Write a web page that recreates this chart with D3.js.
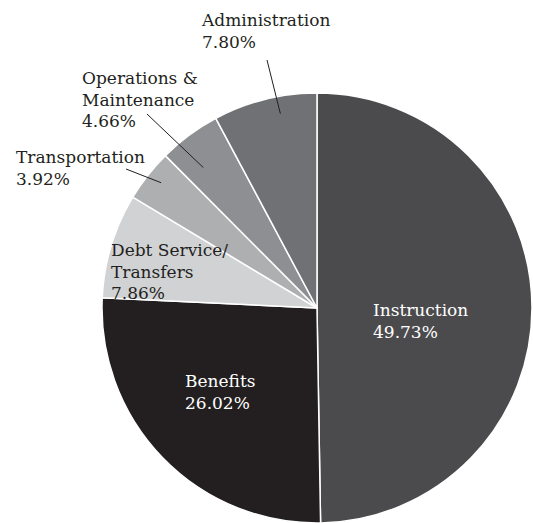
<!DOCTYPE html>
<html>
<head>
<meta charset="utf-8">
<script src="https://cdn.jsdelivr.net/npm/d3@7"></script>
<style>
  body { margin: 0; background: #fff; }
  text { font-family: "DejaVu Serif", serif; font-size: 17px; }
</style>
</head>
<body>
<div class="pie-chart"></div>
<script>
var categories = ['Instruction', 'Benefits', 'Debt Service/Transfers', 'Transportation', 'Operations & Maintenance', 'Administration'];
var shares = [49.73, 26.02, 7.86, 3.92, 4.66, 7.80];
var colours = ['#4b4b4d', '#231f20', '#d1d2d4', '#aeafb1', '#8e8f92', '#707174'];
// label text lines, split the way the printed chart wraps them
var labelLines = [
    ['Instruction', '49.73%'],
    ['Benefits', '26.02%'],
    ['Debt Service/', 'Transfers', '7.86%'],
    ['Transportation', '3.92%'],
    ['Operations &', 'Maintenance', '4.66%'],
    ['Administration', '7.80%']
];

var width = 533, height = 523;
var cx = 317, cy = 308, radius = 215;
var lineHeight = 21.5;

// where each label block sits (x, first baseline), and fill of the text
var labelPos = [
    [373, 316, '#fff'],
    [185, 387, '#fff'],
    [111, 256, '#231f20'],
    [16, 163, '#231f20'],
    [82, 84, '#231f20'],
    [202, 26, '#231f20']
];
// leader lines: outer end near label, inner end as fraction along slice / radius
var leaders = [
    null, null, null,
    { from: [126, 169], t: 0.55, r: 0.93 },
    { from: [147, 114], t: 0.35, r: 0.84 },
    { from: [267, 60], t: 0.62, r: 0.92 }
];

var data = categories.map(function (c, i) {
    return { name: c, share: shares[i], colour: colours[i], lines: labelLines[i] };
});

var svg = d3.select('.pie-chart')
    .append('svg')
    .attr('width', width)
    .attr('height', height);

var pie = d3.pie()
    .value(function (d) { return d.share; })
    .sort(null);
var arcs = pie(data);

var arc = d3.arc().innerRadius(0).outerRadius(radius);

var g = svg.append('g').attr('transform', 'translate(' + cx + ',' + cy + ')');

g.selectAll('.slice').data(arcs).enter()
    .append('path')
    .attr('class', 'slice')
    .attr('d', arc)
    .attr('fill', function (d) { return d.data.colour; })
    .attr('stroke', '#fff')
    .attr('stroke-width', 1.5)
    .attr('stroke-linejoin', 'round');

// leader lines
arcs.forEach(function (d, i) {
    var l = leaders[i];
    if (!l) return;
    var a = d.startAngle + (d.endAngle - d.startAngle) * l.t;
    var x2 = cx + Math.sin(a) * radius * l.r;
    var y2 = cy - Math.cos(a) * radius * l.r;
    svg.append('line')
        .attr('x1', l.from[0]).attr('y1', l.from[1])
        .attr('x2', x2).attr('y2', y2)
        .attr('stroke', '#231f20')
        .attr('stroke-width', 1);
});

// labels
data.forEach(function (d, i) {
    var p = labelPos[i];
    var t = svg.append('text')
        .attr('x', p[0])
        .attr('y', p[1])
        .attr('fill', p[2]);
    d.lines.forEach(function (line, j) {
        t.append('tspan')
            .attr('x', p[0])
            .attr('y', p[1] + j * lineHeight)
            .text(line);
    });
});
</script>
</body>
</html>
